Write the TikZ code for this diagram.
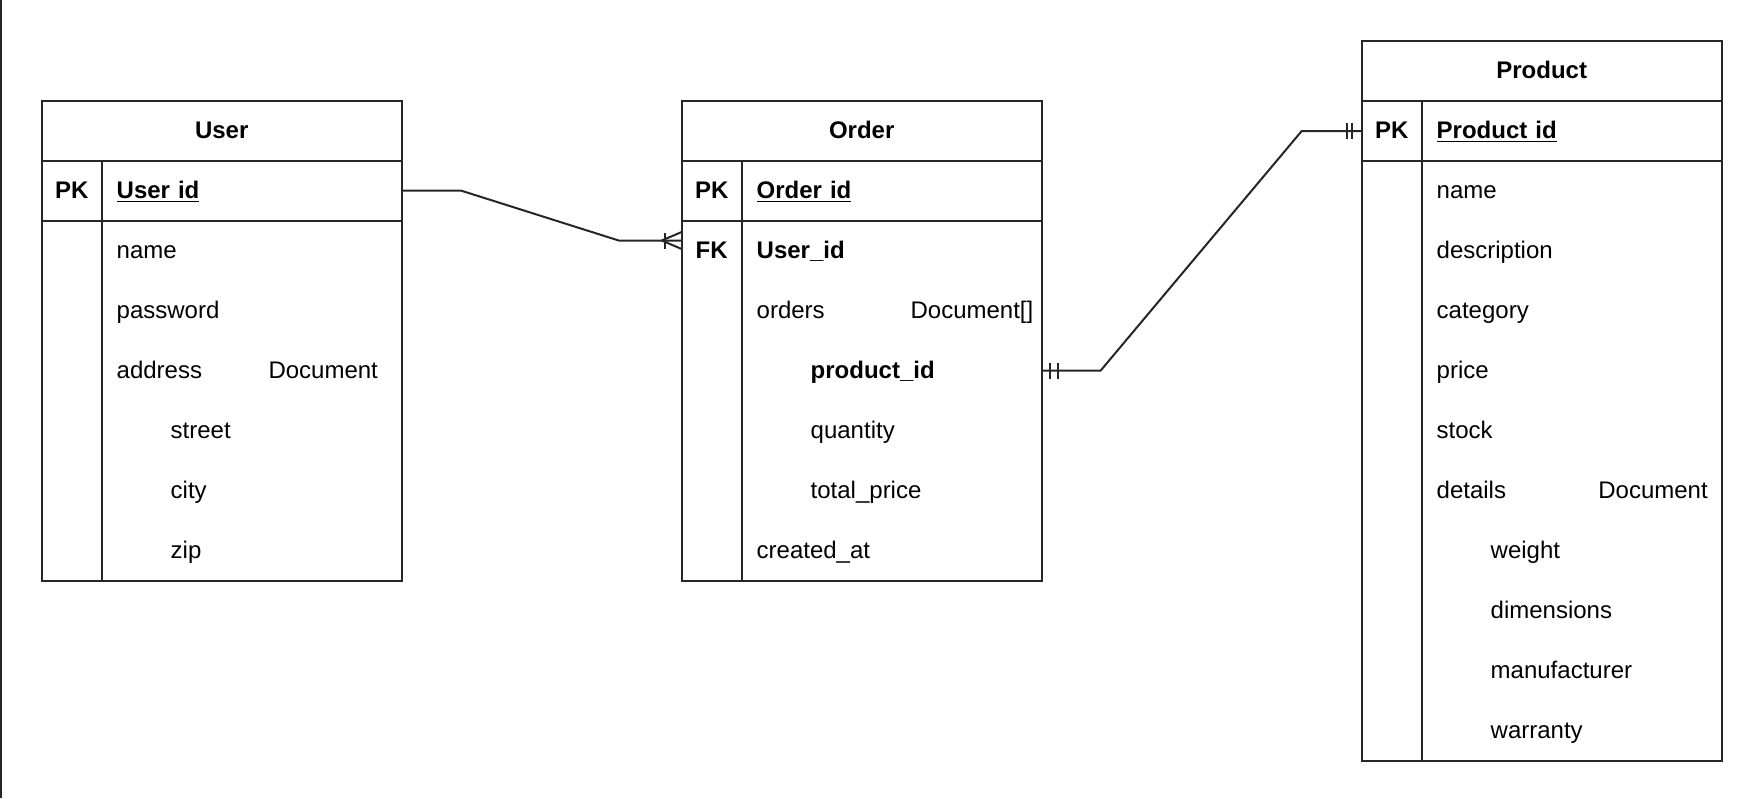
\documentclass[tikz,border=0pt]{standalone}
\usepackage{fontspec}
\setmainfont{Liberation Sans}
\usetikzlibrary{positioning}

\begin{document}
\begin{tikzpicture}[x=0.5pt, y=-0.5pt,
    font=\fontsize{12}{14}\selectfont,
    tblline/.style={draw=black!85, line width=1pt},
    cell/.style={rectangle, outer sep=0pt, inner ysep=0pt,
      minimum height=30pt, text height=9pt, text depth=1.5pt},
    tblhead/.style={cell, tblline, minimum width=180pt,
      font=\fontsize{12}{14}\selectfont\bfseries},
    keycell/.style={cell, minimum width=30pt, inner xsep=0pt,
      font=\fontsize{12}{14}\selectfont\bfseries},
    fieldcell/.style={cell, inner xsep=7.5pt, text width=135pt, align=left},
    subcell/.style={fieldcell, execute at begin node=\hspace*{27pt}},
    typelbl/.style={inner sep=0pt, text height=9pt, text depth=1.5pt}]
  \useasboundingbox (0,0) rectangle (1762,798);
  \draw[tblline] (1,0) -- (1,798);

  % User table
  \node[tblhead, anchor=north west] (user) at (41.7,100.5) {User};
  \node[keycell, tblline,
    below right=0pt and 0pt of user.south west] (userpk) {PK};
  \node[fieldcell, tblline, right=0pt of userpk] (userid) {\underline{\textbf{User id}}};
  \node[fieldcell, below=0pt of userid]    (username)   {name};
  \node[fieldcell, below=0pt of username]  (userpass)   {password};
  \node[fieldcell, below=0pt of userpass]  (useraddr)   {address};
  \node[typelbl, left=11.7pt of useraddr.east] (useraddrtype) {Document};
  \node[subcell, below=0pt of useraddr]    (userstreet) {street};
  \node[subcell, below=0pt of userstreet]  (usercity)   {city};
  \node[subcell, below=0pt of usercity]    (userzip)    {zip};
  \draw[tblline] (userpk.south west) rectangle (userzip.south east);
  \draw[tblline] (userpk.south east) -- (userpk.south east |- userzip.south);

  % Order table
  \node[tblhead, anchor=north west] (order) at (681.7,100.5) {Order};
  \node[keycell, tblline,
    below right=0pt and 0pt of order.south west] (orderpk) {PK};
  \node[fieldcell, tblline, right=0pt of orderpk] (orderid) {\underline{\textbf{Order id}}};
  \node[keycell, below=0pt of orderpk]       (orderfk)      {FK};
  \node[fieldcell, below=0pt of orderid]     (orderuid)     {\textbf{User\_id}};
  \node[fieldcell, below=0pt of orderuid]    (orderlist)    {orders};
  \node[typelbl, left=4pt of orderlist.east] (orderlisttype) {Document[]};
  \node[subcell, below=0pt of orderlist]     (orderpid)     {\textbf{product\_id}};
  \node[subcell, below=0pt of orderpid]      (orderqty)     {quantity};
  \node[subcell, below=0pt of orderqty]      (ordertotal)   {total\_price};
  \node[fieldcell, below=0pt of ordertotal]  (ordercreated) {created\_at};
  \draw[tblline] (orderpk.south west) rectangle (ordercreated.south east);
  \draw[tblline] (orderpk.south east) -- (orderpk.south east |- ordercreated.south);

  % Product table
  \node[tblhead, anchor=north west] (prod) at (1361.7,41) {Product};
  \node[keycell, tblline,
    below right=0pt and 0pt of prod.south west] (prodpk) {PK};
  \node[fieldcell, tblline, right=0pt of prodpk] (prodid) {\underline{\textbf{Product id}}};
  \node[fieldcell, below=0pt of prodid]      (prodname)    {name};
  \node[fieldcell, below=0pt of prodname]    (proddesc)    {description};
  \node[fieldcell, below=0pt of proddesc]    (prodcat)     {category};
  \node[fieldcell, below=0pt of prodcat]     (prodprice)   {price};
  \node[fieldcell, below=0pt of prodprice]   (prodstock)   {stock};
  \node[fieldcell, below=0pt of prodstock]   (proddetails) {details};
  \node[typelbl, left=6.8pt of proddetails.east] (proddetailstype) {Document};
  \node[subcell, below=0pt of proddetails]   (prodweight)  {weight};
  \node[subcell, below=0pt of prodweight]    (proddim)     {dimensions};
  \node[subcell, below=0pt of proddim]       (prodmaker)   {manufacturer};
  \node[subcell, below=0pt of prodmaker]     (prodwarranty) {warranty};
  \draw[tblline] (prodpk.south west) rectangle (prodwarranty.south east);
  \draw[tblline] (prodpk.south east) -- (prodpk.south east |- prodwarranty.south);

  % User -- Order (one to many)
  \coordinate (fkin) at ([yshift=5pt]orderfk.west);
  \draw[tblline] (userid.east) -- ++(59,0) -- ([xshift=-31.5pt]fkin) -- (fkin);
  \draw[tblline] ([xshift=-10pt]fkin) -- ([yshift=4.25pt]fkin)
    ([xshift=-10pt]fkin) -- ([yshift=-4.25pt]fkin);
  \draw[tblline] ([xshift=-8.4pt,yshift=4pt]fkin) -- ([xshift=-8.4pt,yshift=-4pt]fkin);

  % Order -- Product (one to one)
  \draw[tblline] (orderpid.east) -- ++(59,0) -- ([xshift=-30pt]prodpk.west) -- (prodpk.west);
  \draw[tblline] ([xshift=4pt,yshift=4pt]orderpid.east) -- ([xshift=4pt,yshift=-4pt]orderpid.east)
    ([xshift=8pt,yshift=4pt]orderpid.east) -- ([xshift=8pt,yshift=-4pt]orderpid.east);
  \draw[tblline] ([xshift=-5pt,yshift=4pt]prodpk.west) -- ([xshift=-5pt,yshift=-4pt]prodpk.west)
    ([xshift=-7.5pt,yshift=4pt]prodpk.west) -- ([xshift=-7.5pt,yshift=-4pt]prodpk.west);
\end{tikzpicture}
\end{document}
